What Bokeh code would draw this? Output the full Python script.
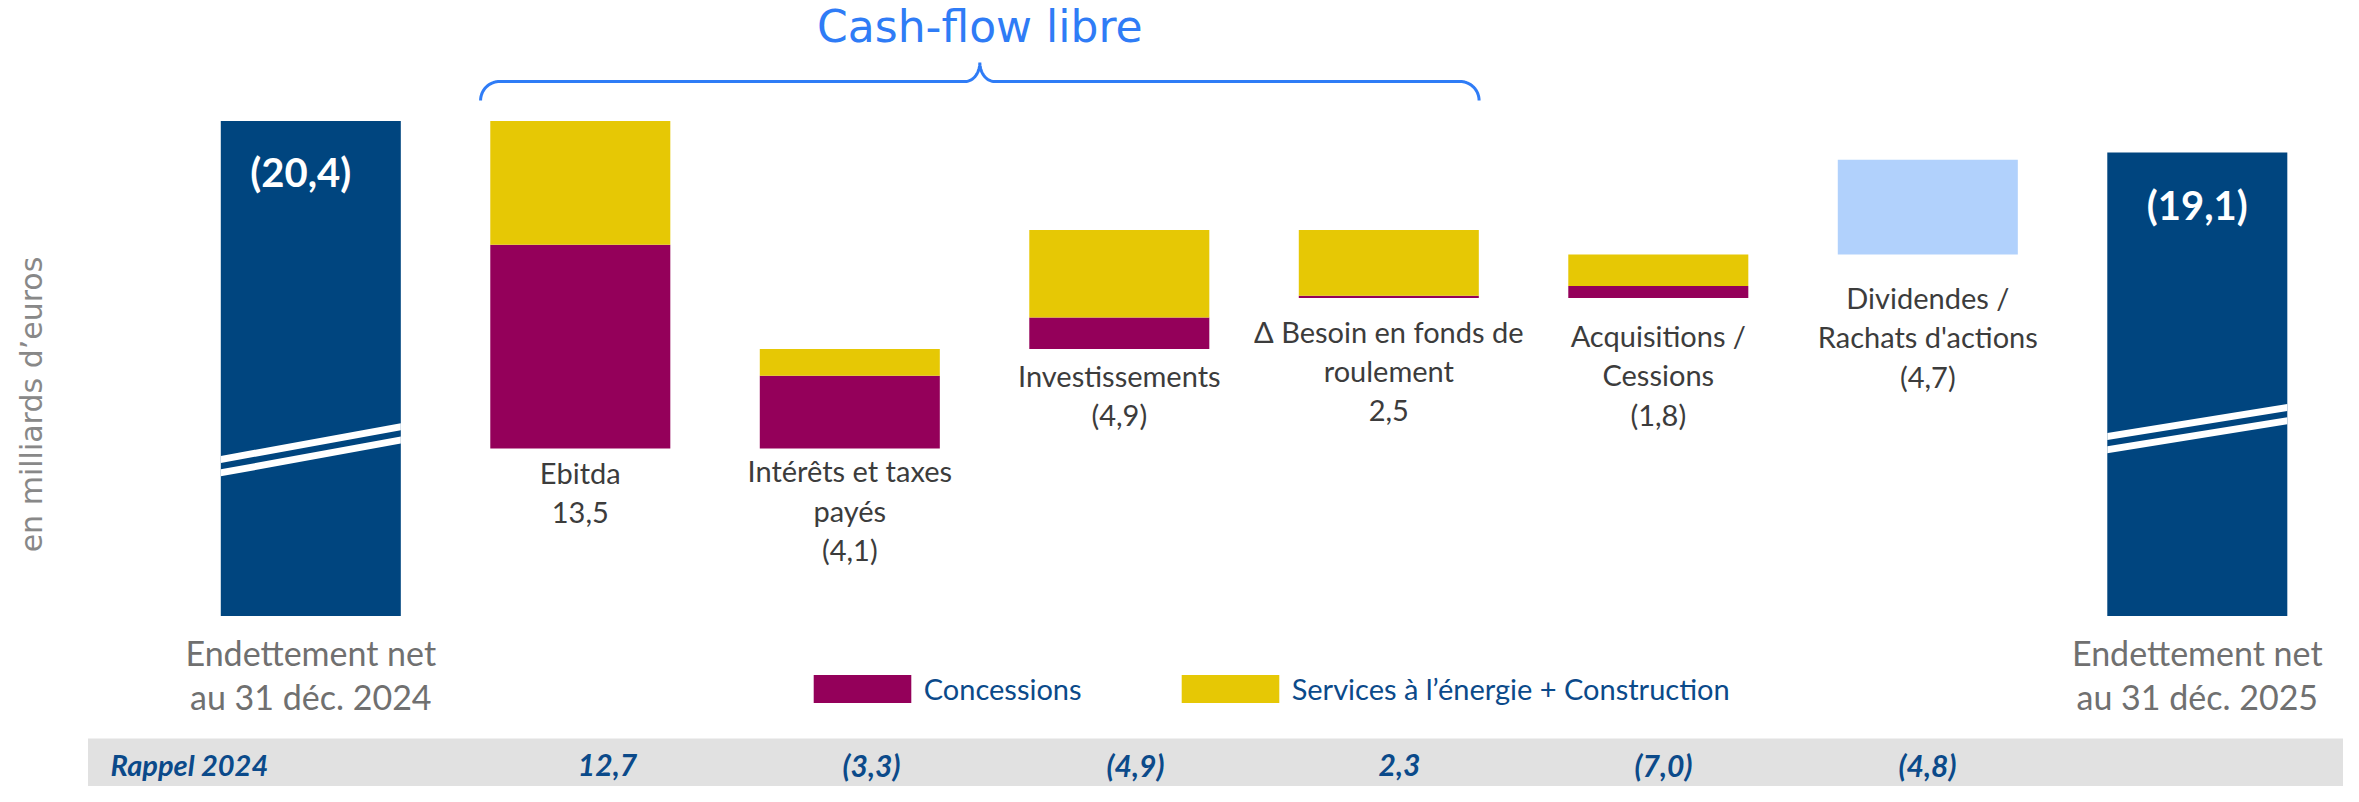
import numpy as np
from bokeh.plotting import figure
from bokeh.models import ColumnDataSource, Legend, LegendItem, Range1d
from bokeh.embed import file_html
from bokeh.resources import INLINE
from bokeh.core.properties import value

# ---------------- data ----------------
categories = ["Endettement net\nau 31 déc. 2024", "Ebitda", "Intérêts et taxes\npayés",
              "Investissements", "Δ Besoin en fonds de\nroulement", "Acquisitions /\nCessions",
              "Dividendes /\nRachats d'actions", "Endettement net\nau 31 déc. 2025"]
value_labels = ["(20,4)", "13,5", "(4,1)", "(4,9)", "2,5", "(1,8)", "(4,7)", "(19,1)"]
net_debt_start = 20.4
net_debt_end = 19.1
# change of net debt per step (+ = debt increases)
concessions = [-8.4, 3.0, 1.3, -0.1, 0.5]
services = [-5.1, 1.1, 3.6, -2.7, 1.3]
dividends = 3.9
rappel_2024 = ["12,7", "(3,3)", "(4,9)", "2,3", "(7,0)", "(4,8)"]
legend_labels = ["Concessions", "Services à l’énergie + Construction"]
y_title = "en milliards d’euros"
bracket_title = "Cash-flow libre"
rappel_title = "Rappel 2024"

# ---------------- styles ----------------
NAVY = "#00457F"
PURPLE = "#94005A"
YELLOW = "#E6C805"
LIGHTBLUE = "#B1D1FC"
CF_BLUE = "#2F7CF6"
TXT_NAVY = "#0B4A8A"
LABEL_GREY = "#3C3C3C"
END_GREY = "#707070"
BAND_GREY = "#E1E1E1"
FONT = value("Lato")

W, H = 2343, 786
PX_X, X0 = 269.5, 310.3     # px per category, px of first category
PX_Y, Y0 = 24.27, 615.5     # px per unit, px of zero
BAR_W = 0.668


def fx(px):
    return (px - X0) / PX_X


def fy(py):
    return (Y0 - py) / PX_Y


p = figure(width=W, height=H, output_backend="svg", toolbar_location=None,
           x_range=Range1d(fx(0), fx(W)), y_range=Range1d(fy(H), fy(0)),
           x_axis_location=None, y_axis_location=None, min_border=0,
           outline_line_color=None, background_fill_color="white")
p.grid.visible = False

# ---------------- grey band (Rappel 2024) ----------------
p.quad(left=[fx(87.5)], right=[fx(W + 50)], top=[fy(738)], bottom=[fy(H + 50)],
       fill_color=BAND_GREY, line_color=None)

# ---------------- waterfall ----------------
level = net_debt_start
px_, pb, pt, yb, yt, lows = [], [], [], [], [], []
for i, (c, s) in enumerate(zip(concessions, services)):
    new = level + c + s
    lo, hi = min(level, new), max(level, new)
    px_.append(i + 1)
    pb.append(lo)
    pt.append(lo + abs(c))
    yb.append(lo + abs(c))
    yt.append(hi)
    lows.append(lo)
    level = new
div_lo, div_hi = level, level + dividends
lows.append(div_lo)

navy_r = p.vbar(x=[0, 7], top=[net_debt_start, net_debt_end], bottom=0, width=BAR_W,
                fill_color=NAVY, line_color=None)
purple_r = p.vbar(x=px_, bottom=pb, top=pt, width=BAR_W, fill_color=PURPLE, line_color=None)
yellow_r = p.vbar(x=px_, bottom=yb, top=yt, width=BAR_W, fill_color=YELLOW, line_color=None)
p.vbar(x=[6], bottom=[div_lo], top=[div_hi], width=BAR_W, fill_color=LIGHTBLUE, line_color=None)

# break marks on the net-debt bars (px of upper stripe centre at left/right edge)
stripes = [(0, 459.0, 426.3), (7, 436.0, 407.0)]
xs, ys = [], []
for idx, ly, ry in stripes:
    for k in range(2):
        d = k * 13.3
        l, r = idx - BAR_W / 2, idx + BAR_W / 2
        xs.append([l, r, r, l])
        ys.append([fy(ly + d - 3.5), fy(ry + d - 3.5), fy(ry + d + 3.5), fy(ly + d + 3.5)])
p.patches(xs=xs, ys=ys, fill_color="white", line_color=None)

# ---------------- bracket ----------------
bl, br = 1 - 0.37, 4 + 0.335
L, R = X0 + bl * PX_X, X0 + br * PX_X
M = (L + R) / 2
yh, yend, ytip = 81.0, 100.0, 62.0
rr, rx = 19.0, 14.7
t = np.linspace(0, np.pi / 2, 20)
pts_x = list(L + rr - rr * np.cos(t))
pts_y = list(yend - rr * np.sin(t))
pts_x += list(M - rx + rx * np.sin(t))
pts_y += list(ytip + (yh - ytip) * np.cos(t))
pts_x += list(M + rx - rx * np.cos(t))
pts_y += list(ytip + (yh - ytip) * np.sin(t))
pts_x += list(R - rr + rr * np.sin(t))
pts_y += list(yend - rr * np.cos(t))
p.line(x=[fx(v) for v in pts_x], y=[fy(v) for v in pts_y], line_color=CF_BLUE,
       line_width=3)
p.text(x=[fx(M)], y=[fy(26)], text=[bracket_title], text_font=value("DejaVu Sans"),
       text_font_size="44px", text_color=CF_BLUE, text_align="center",
       text_baseline="middle")

# ---------------- y title ----------------
p.text(x=[fx(31)], y=[fy(404)], text=[y_title], angle=np.pi / 2,
       text_font=value("DejaVu Sans"), text_font_size="30px", text_color="#888888",
       text_align="center", text_baseline="middle")

# ---------------- labels in the net-debt bars ----------------
p.text(x=[0, 7], y=[net_debt_start - 51 / PX_Y, net_debt_end - 53 / PX_Y],
       text=[value_labels[0], value_labels[7]], x_offset=[-10, 0],
       text_font=FONT, text_font_size="40px", text_font_style="bold",
       text_color="white", text_align="center", text_baseline="middle")

# ---------------- step labels ----------------
first_off = [24, 22, 26, 33, 37, 43]
LINE = 39.5
lx, ly, lt = [], [], []
for i in range(1, 7):
    lines = categories[i].split("\n") + [value_labels[i]]
    for k, s in enumerate(lines):
        lx.append(i)
        ly.append(lows[i - 1] - (first_off[i - 1] + k * LINE) / PX_Y)
        lt.append(s)
p.text(x=lx, y=ly, text=lt, text_font=FONT, text_font_size="29px", text_color=LABEL_GREY,
       text_align="center", text_baseline="middle")

# end labels
ex, ey, et = [], [], []
for i in (0, 7):
    for k, s in enumerate(categories[i].split("\n")):
        ex.append(i)
        ey.append(0 - (36.5 + k * 44) / PX_Y)
        et.append(s)
p.text(x=ex, y=ey, text=et, text_font=FONT, text_font_size="34px", text_color=END_GREY,
       text_align="center", text_baseline="middle")

# ---------------- rappel 2024 ----------------
RY = 764
p.text(x=[fx(110)], y=[fy(RY)], text=[rappel_title], text_font=FONT, text_font_size="29px",
       text_font_style="bold italic", text_color=TXT_NAVY, text_align="left",
       text_baseline="middle")
rx_pos = [fx(607) + k * 264.0 / PX_X for k in range(len(rappel_2024))]
p.text(x=rx_pos, y=[fy(RY)] * len(rappel_2024), text=rappel_2024,
       text_font=FONT, text_font_size="30px", text_font_style="bold italic",
       text_color=TXT_NAVY, text_align="center", text_baseline="middle")

# ---------------- legend ----------------
legend = Legend(items=[LegendItem(label=legend_labels[0], renderers=[purple_r]),
                       LegendItem(label=legend_labels[1], renderers=[yellow_r])],
                location=(800.75, H - 705.5), orientation="horizontal",
                glyph_width=122, glyph_height=35, label_height=35, label_standoff=1,
                spacing=87, padding=0, margin=0, border_line_color=None,
                background_fill_alpha=0, label_text_font="Lato",
                label_text_font_size="29px", label_text_color=TXT_NAVY)
p.add_layout(legend)

open("out.html", "w").write(file_html(p, INLINE))
